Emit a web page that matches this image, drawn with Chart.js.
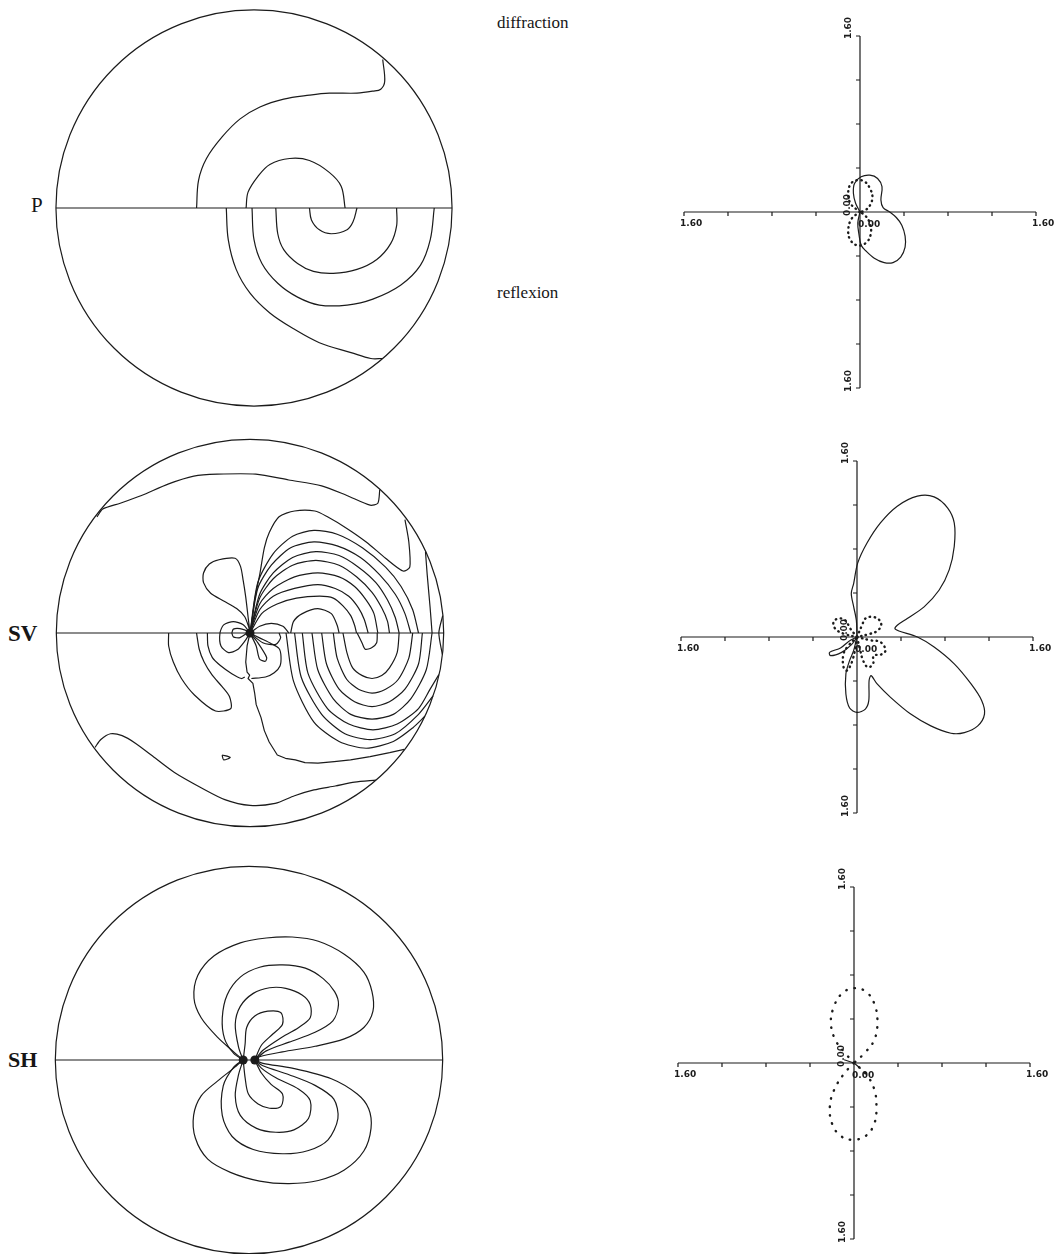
<!DOCTYPE html>
<html>
<head>
<meta charset="utf-8">
<title>Radiation patterns: P, SV, SH</title>
<script src="https://cdn.jsdelivr.net/npm/chart.js@4.4.0/dist/chart.umd.min.js"></script>
<style>
  html, body { margin: 0; padding: 0; background: #fff; }
  body { position: relative; width: 1058px; height: 1254px; overflow: hidden; }
  canvas { position: absolute; }
  .lbl { position: absolute; font-family: 'Liberation Serif', 'DejaVu Serif', serif; color: #161616; line-height: 1; white-space: nowrap; }
</style>
</head>
<body>
<div class="lbl" style="left:497px;top:14px;font-size:17px">diffraction</div>
<div class="lbl" style="left:497px;top:284px;font-size:17px">reflexion</div>
<div class="lbl" style="left:31px;top:195px;font-size:21px">P</div>
<div class="lbl" style="left:8px;top:622px;font-size:23px;font-weight:bold">SV</div>
<div class="lbl" style="left:8px;top:1049px;font-size:22px;font-weight:bold">SH</div>

<canvas id="mapP"  width="408" height="408" style="left:50px;top:4px"></canvas>
<canvas id="mapSV" width="408" height="408" style="left:46px;top:429px"></canvas>
<canvas id="mapSH" width="408" height="408" style="left:45px;top:856px"></canvas>
<canvas id="patP"  width="420" height="420" style="left:650px;top:2px"></canvas>
<canvas id="patSV" width="420" height="420" style="left:647px;top:427px"></canvas>
<canvas id="patSH" width="420" height="420" style="left:644px;top:853px"></canvas>

<script>
// ---------- contour maps: focal sphere projection, coordinates in % of the rim radius ----------
const RIM = 100;

// P wave amplitude contours
const P_SPIRAL   = [[65,75],[66,64],[64,60],[60,59],[52,58],[38,58],[28,57],[15,55],[3,51],[-7,45],[-16,36],[-24,25],[-28,14],[-29,0]];
const P_UPPER    = [[-4,0],[-3,8],[2,16],[8,22],[18,25],[28,24],[38,18],[44,11],[46,0]];
const P_LOWER_1  = [[28,0],[29,-6],[33,-11],[39,-13],[47,-11],[50,-7],[52,0]];
const P_LOWER_2  = [[11,0],[12,-13],[15,-21],[22,-28],[30,-32],[40,-33],[52,-31],[62,-26],[69,-18],[72,-9],[72,0]];
const P_LOWER_3  = [[-1,0],[0,-16],[4,-28],[12,-38],[22,-45],[33,-49],[47,-49],[60,-46],[74,-39],[84,-29],[89,-16],[91,0]];
const P_LOWER_4  = [[-14,0],[-13,-16],[-9,-31],[-2,-43],[8,-53],[20,-61],[33,-68],[49,-73],[59,-76],[65,-76]];

// SV wave amplitude contours
const SV_TOP     = [[-79,60],[-76,64],[-67,67],[-56,71],[-42,77],[-29,81],[-17,82],[3,82],[20,79],[37,76],[50,71],[62,66],[66,67],[67,74]];
const SV_HOOK    = [[80,58.5],[82,47],[82.5,34],[79,32],[70,38.6],[60,47],[50,54],[40,60],[33.5,63],[23,63],[15,60],[10,52],[7.4,44],[5,30],[2.4,17],[0.7,3.3],[0,0]];
const SV_EDGE_1  = [[90.6,42],[91.5,30],[93,13],[94,0]];
const SV_EDGE_2  = [[99.5,9],[97.5,0],[99.3,-11]];
const SV_ARC_1   = [[0,0],[6,10],[14,15],[24,18],[36,19],[43,18],[48,14],[52,9],[54,4],[55,0]];
const SV_ARC_2   = [[0,0],[5,12],[12,19],[23,23],[35,25],[44,23],[51,19],[56,13],[59,7],[61,0]];
const SV_ARC_3   = [[0,0],[5,15],[12,23],[23,29],[35,31],[46,29],[54,24],[60,17],[64,10],[66,0]];
const SV_ARC_4   = [[0,0],[5,18],[12,28],[22,35],[34,37.5],[46,35],[55,29],[63,21],[68,13],[71,6],[72,0]];
const SV_ARC_5   = [[0,0],[5,20],[12,31],[22,39],[34,42],[46,40],[56,34],[65,26],[71,17],[75,8],[77,0]];
const SV_ARC_6   = [[0,0],[4,23],[11,35],[21,44],[33,47],[45,45],[57,39],[67,30],[75,20],[80,10],[83,0]];
const SV_ARC_7   = [[0,0],[4,26],[12,41],[22,50],[33,53],[45,51],[58,44],[70,34],[78,24],[84,12],[87,0]];
const SV_DOME    = [[21,0],[22.5,6],[27,10],[35,12.6],[42,10],[45,4],[46,0]];
const SV_LOBE    = [[0,0],[-0.5,2.5],[-2.7,8.4],[-6.9,12.6],[-13.6,16.5],[-20.3,20.5],[-24,26],[-24,31],[-21,35.6],[-16,37.8],[-7.7,38.6],[-4.9,34.4],[-3.5,27],[-2.2,18.5],[-1,8.4],[0,0]];
const SV_LOOP_W  = [[0,0],[-3.5,4.2],[-8.6,5.9],[-13.6,4.2],[-15.5,0],[-15,-6.7],[-11.1,-10.1],[-6.6,-8.7],[-2.7,-4.2],[0,0]];
const SV_LOOP_IN = [[-9.4,0],[-8.6,2],[-5.2,2.3],[-1.2,0.7],[-5.2,-2.4],[-8.6,-2],[-9.4,0]];
const SV_LOOP_NE = [[0,0],[5,3.5],[11,5],[17,3.5],[20,0]];
const SV_LOOP_SE = [[0,0],[6.6,-5],[13.3,-5.9],[15.8,-2.5],[15,0]];
const SV_FINGER  = [[0,0],[3.2,-6.7],[4.9,-13.4],[7.9,-14.6],[8.6,-12.6],[4,-5],[0,0]];
const SV_LOOP_S  = [[0,0],[4.9,-2.5],[11,-5.5],[15,-8],[16,-12],[15.5,-17],[12.5,-20.5],[8,-22.7],[0.7,-23.5]];
const SV_WEST    = [[-42,0],[-42,-6.7],[-39.6,-15],[-35.4,-23.5],[-28.7,-32],[-17.8,-40.3],[-9.9,-39],[-10.6,-32.8],[-14.4,-27.7],[-19.5,-21.8],[-23.7,-15],[-26.2,-8.4],[-27.6,0]];
const SV_SW      = [[-22,0],[-21.7,-6.7],[-19.5,-12.6],[-15.3,-16.8],[-9.4,-21],[-4.4,-23.5],[-2.7,-22.7]];
const SV_RIDGE   = [[0,0],[-1.5,-6.7],[-2.2,-15],[-1.5,-20.2],[-0.2,-21.8],[-1,-23.5],[1.5,-26],[2.4,-31],[3.2,-37],[5.7,-43.7],[7.4,-50.4],[9.9,-56.3],[14.1,-63],[18.3,-64.7],[23.4,-65.5],[28.4,-66.9],[35.1,-67.2],[43.5,-66.4],[51.9,-65.5],[62,-63.8],[72.1,-61.8],[79.6,-60.1]];
const SV_NOTCH   = [[55.3,0],[57.8,-5],[59.5,-8.4],[62.8,-7.6],[65.4,-5],[65.7,0]];
const SV_BOWL_2  = [[48,0],[50,-10],[53,-18],[58,-22],[63,-23.5],[68,-22],[72,-18],[76,-10],[77,0]];
const SV_BOWL_3  = [[43,0],[45,-13],[50,-24],[56,-29],[63,-31],[70,-29],[76.5,-24],[82,-13],[84,0]];
const SV_BOWL_4  = [[37,0],[39.5,-16],[46,-29],[54,-35.5],[63,-38],[72,-35.5],[80,-29],[87,-16],[89,0]];
const SV_BOWL_5  = [[32,0],[35,-19],[43,-34],[52,-42],[63,-44.5],[74,-42],[83,-34],[91,-19],[94,0]];
const SV_BOWL_6  = [[27,0],[30,-21],[40,-39],[51,-47],[63.5,-50],[76,-47],[87,-39],[93,-29],[97.5,-21.5]];
const SV_BOWL_7  = [[23,0],[26.5,-23],[37,-42],[49,-52],[62,-55],[75,-52],[87,-42],[94.5,-32.5]];
const SV_BOWL_8  = [[18.6,0],[22.5,-25],[33,-46],[46,-56],[60,-59.5],[74,-56],[84,-49],[90.3,-43]];
const SV_BAND    = [[-80,-59],[-77,-55],[-72,-52],[-66,-53],[-59,-57],[-51,-63],[-39,-72],[-25,-80],[-13,-86],[0,-89],[13,-88],[23,-84],[33,-81],[44,-79],[54,-77],[65,-76]];
const SV_ISLET   = [[-14.4,-63],[-10.2,-64.2],[-13.6,-65.5],[-14.4,-63]];

// SH wave amplitude contours
const SH_N1 = [[-3,0],[-7.9,4.2],[-16.3,11.8],[-24.7,21.8],[-28.4,31.9],[-26.4,43.7],[-18,53.8],[-4.5,60.5],[8.9,63],[22.3,63.5],[35.8,61.3],[49.2,54.6],[59.3,45.4],[63.5,35.3],[64,25.2],[59.3,16.8],[49.2,10.9],[34.1,7.1],[17.3,4.2],[5.5,1.7],[3,0]];
const SH_N2 = [[-3,0],[-7.9,3.4],[-12.6,10.9],[-13.8,21.8],[-11.3,33.6],[-4.5,42.8],[5.5,47.9],[17.3,49.1],[29.1,47.4],[38.3,42],[44.2,35.3],[46.2,28.6],[43.3,20.2],[34.1,14.3],[20.7,9.2],[8.9,4.7],[3,0]];
const SH_N3 = [[-3,0],[-5.4,6.7],[-7.1,18.5],[-4.5,27.7],[2.2,34.4],[10.6,37.3],[19,37],[27.4,33.6],[31.6,28.6],[31.6,21.8],[25.7,16.8],[15.6,10.9],[7.2,5],[3,0]];
const SH_N4 = [[-3,0],[-2,8.4],[-1.2,16.8],[3,22.7],[9.7,25.2],[16.5,24.4],[17.3,18.5],[12.3,13.4],[6.4,7.6],[3,0]];
const SH_S1 = [[-3,0],[-7.9,-4.2],[-16.3,-10.9],[-24.7,-18.5],[-28.6,-28.6],[-27.7,-40.3],[-21.3,-51.2],[-9.6,-58],[5.5,-62.5],[20.7,-63.8],[35.8,-62.2],[49.2,-56.8],[59.3,-47],[63,-35.3],[61.8,-25.2],[55.9,-17.6],[42.5,-9.7],[22.3,-4.2],[7.2,-1.7],[3,0]];
const SH_S2 = [[-3,0],[-7.9,-3.7],[-13.3,-13.4],[-13.8,-28.6],[-8.7,-39.5],[2.2,-46.2],[17.3,-48.4],[30.7,-46.7],[40.8,-41.2],[45.9,-30.2],[43.8,-20.2],[34.1,-13.1],[20.7,-7.6],[7.2,-3],[3,0]];
const SH_S3 = [[-3,0],[-5.4,-7.6],[-7.1,-18.5],[-4.5,-28.6],[3.9,-35.3],[13.9,-37.3],[23.2,-36.1],[30.7,-30.2],[31.6,-21],[25.7,-15.1],[13.9,-9.2],[6.4,-4.2],[3,0]];
const SH_S4 = [[-3,0],[-2,-9.2],[-0.3,-17.6],[4.7,-22.7],[10.6,-24.9],[16.5,-23.9],[17.3,-17.6],[11.4,-12.6],[6.4,-6.7],[3,0]];

const SV_SINGULAR = [[0,0]];
const SH_SINGULAR = [[-3,0],[3,0]];

// ---------- radiation patterns (amplitude vs. direction) ----------
const AXIS_MAX = 1.6;
const AXIS_TICKS = [-1.6, -1.2, -0.8, -0.4, 0.4, 0.8, 1.2, 1.6];
const END_LABEL = '1.60';
const ORIGIN_LABEL = '0.00';

const PAT_P_SOLID   = [[0,0],[-0.04,0.08],[-0.06,0.17],[-0.05,0.26],[0.01,0.32],[0.09,0.335],[0.16,0.305],[0.2,0.23],[0.19,0.11],[0.21,0.04],[0.27,0],[0.33,-0.05],[0.38,-0.12],[0.41,-0.22],[0.41,-0.32],[0.37,-0.41],[0.3,-0.46],[0.22,-0.46],[0.13,-0.42],[0.05,-0.35],[0.01,-0.3],[-0.01,-0.2],[-0.02,-0.1],[0,0]];
const PAT_P_DOT_UP  = [[0,0],[-0.085,0.076],[-0.107,0.183],[-0.076,0.265],[-0.015,0.29],[0.046,0.274],[0.091,0.213],[0.113,0.137],[0.091,0.061],[0.046,0.015],[0,0]];
const PAT_P_DOT_DN  = [[0,0],[-0.076,-0.061],[-0.107,-0.168],[-0.085,-0.259],[-0.015,-0.305],[0.061,-0.274],[0.098,-0.198],[0.091,-0.107],[0.046,-0.03],[0,0]];

const PAT_SV_SOLID  = [[0,0],[-0.006,0.152],[-0.03,0.274],[-0.052,0.396],[-0.03,0.488],[0.006,0.671],[0.091,0.854],[0.213,1.037],[0.366,1.189],[0.549,1.28],[0.701,1.274],[0.823,1.174],[0.884,1.037],[0.884,0.823],[0.838,0.61],[0.747,0.427],[0.61,0.274],[0.457,0.168],[0.366,0.107],[0.345,0.076],[0.381,0.055],[0.549,0],[0.701,-0.091],[0.884,-0.244],[1.037,-0.427],[1.134,-0.579],[1.159,-0.701],[1.098,-0.808],[0.976,-0.869],[0.854,-0.875],[0.671,-0.808],[0.488,-0.701],[0.305,-0.549],[0.183,-0.427],[0.128,-0.351],[0.11,-0.396],[0.107,-0.579],[0.076,-0.655],[0,-0.686],[-0.067,-0.646],[-0.101,-0.518],[-0.101,-0.335],[-0.067,-0.213],[-0.03,-0.122],[0,0]];
const PAT_SV_SIDE   = [[0,0],[-0.076,-0.04],[-0.15,-0.1],[-0.25,-0.14],[-0.24,-0.17],[-0.14,-0.14],[-0.05,-0.07],[0,0]];
const PAT_SV_DOT_NE = [[0,0],[0.046,0.107],[0.076,0.168],[0.137,0.183],[0.198,0.159],[0.22,0.107],[0.183,0.055],[0.122,0.03],[0,0]];
const PAT_SV_DOT_NW = [[0,0],[-0.061,0.076],[-0.107,0.152],[-0.168,0.168],[-0.213,0.137],[-0.198,0.076],[-0.122,0.03],[0,0]];
const PAT_SV_DOT_SE = [[0,0],[0.122,-0.03],[0.213,-0.046],[0.259,-0.122],[0.213,-0.162],[0.152,-0.168],[0.146,-0.244],[0.098,-0.274],[0.055,-0.213],[0.03,-0.122],[0,0]];
const PAT_SV_DOT_SW = [[0,0],[-0.076,-0.076],[-0.122,-0.152],[-0.122,-0.274],[-0.091,-0.305],[-0.037,-0.198],[0,0]];

const PAT_SH_DOT_UP = [[0,0],[-0.076,0.085],[-0.168,0.207],[-0.21,0.36],[-0.183,0.512],[-0.107,0.634],[0,0.68],[0.107,0.65],[0.183,0.543],[0.213,0.375],[0.183,0.207],[0.091,0.085],[0,0]];
const PAT_SH_DOT_DN = [[0,0],[-0.091,-0.098],[-0.183,-0.25],[-0.22,-0.402],[-0.198,-0.555],[-0.122,-0.662],[-0.015,-0.698],[0.107,-0.662],[0.183,-0.555],[0.204,-0.402],[0.183,-0.235],[0.107,-0.098],[0,0]];
const PAT_SH_SOLID  = [[-0.09,0.03],[0,0],[0.06,-0.05]];

// ---------- drawing ----------
const INK = '#1b1b1b';

function solid(pts, tension = 0.3) {
  return { data: pts.map(([x, y]) => ({ x, y })), showLine: true, borderColor: INK, borderWidth: 1.2,
           pointRadius: 0, fill: false, tension: tension, borderJoinStyle: 'round' };
}
function dotted(pts, gap = 5) {
  return { data: pts.map(([x, y]) => ({ x, y })), showLine: true, borderColor: INK, borderWidth: 2.4,
           borderDash: [0.5, gap], borderCapStyle: 'round', pointRadius: 0, fill: false, tension: 0.4 };
}
function blobs(pts) {
  return { data: pts.map(([x, y]) => ({ x, y })), showLine: false, pointRadius: 4.5,
           pointBackgroundColor: INK, pointBorderWidth: 0 };
}

// rim circle and horizontal diameter of the projection
const rimPlugin = {
  id: 'rim',
  beforeDatasetsDraw(chart) {
    const { ctx, scales: { x, y } } = chart;
    const cx = x.getPixelForValue(0), cy = y.getPixelForValue(0);
    const r = x.getPixelForValue(RIM) - cx;
    ctx.save();
    ctx.strokeStyle = INK;
    ctx.lineWidth = 1.2;
    ctx.beginPath();
    ctx.arc(cx, cy, r, 0, Math.PI * 2);
    ctx.moveTo(x.getPixelForValue(-RIM), cy);
    ctx.lineTo(x.getPixelForValue(RIM), cy);
    ctx.stroke();
    ctx.restore();
  }
};

// crossing axes with ticks and end labels for the pattern plots
const crossAxesPlugin = {
  id: 'crossAxes',
  beforeDatasetsDraw(chart) {
    const { ctx, scales: { x, y } } = chart;
    const x0 = x.getPixelForValue(0), y0 = y.getPixelForValue(0);
    const xl = x.getPixelForValue(-AXIS_MAX), xr = x.getPixelForValue(AXIS_MAX);
    const yt = y.getPixelForValue(AXIS_MAX), yb = y.getPixelForValue(-AXIS_MAX);
    ctx.save();
    ctx.strokeStyle = INK;
    ctx.lineWidth = 1.2;
    ctx.beginPath();
    ctx.moveTo(xl, y0); ctx.lineTo(xr, y0);
    ctx.moveTo(x0, yt); ctx.lineTo(x0, yb);
    AXIS_TICKS.forEach(t => {
      const px = x.getPixelForValue(t);
      ctx.moveTo(px, y0); ctx.lineTo(px, y0 + 4);
      const py = y.getPixelForValue(t);
      ctx.moveTo(x0, py); ctx.lineTo(x0 - 4, py);
    });
    ctx.stroke();

    ctx.fillStyle = INK;
    ctx.font = 'bold 9px "DejaVu Sans", sans-serif';
    ctx.textBaseline = 'middle';
    ctx.textAlign = 'left';
    ctx.fillText(END_LABEL, xl - 4, y0 + 12);
    ctx.fillText(END_LABEL, xr - 4, y0 + 12);
    ctx.fillText(ORIGIN_LABEL, x0 - 2, y0 + 13);
    const upright = (txt, px, py) => {
      ctx.save();
      ctx.translate(px, py);
      ctx.rotate(-Math.PI / 2);
      ctx.textAlign = 'center';
      ctx.fillText(txt, 0, 0);
      ctx.restore();
    };
    upright(END_LABEL, x0 - 11, yt - 8);
    upright(END_LABEL, x0 - 11, yb - 7);
    upright(ORIGIN_LABEL, x0 - 12, y0 - 7);
    ctx.restore();
  }
};

function baseOptions(lim) {
  return {
    responsive: false,
    animation: false,
    events: [],
    layout: { padding: 0 },
    plugins: { legend: { display: false }, tooltip: { enabled: false } },
    scales: {
      x: { type: 'linear', min: -lim, max: lim, display: false },
      y: { type: 'linear', min: -lim, max: lim, display: false }
    }
  };
}

function contourMap(id, datasets) {
  new Chart(document.getElementById(id), {
    type: 'scatter',
    data: { datasets },
    options: baseOptions(103),
    plugins: [rimPlugin]
  });
}

function pattern(id, datasets) {
  new Chart(document.getElementById(id), {
    type: 'scatter',
    data: { datasets },
    options: baseOptions(1.909),
    plugins: [crossAxesPlugin]
  });
}

contourMap('mapP', [P_SPIRAL, P_UPPER, P_LOWER_1, P_LOWER_2, P_LOWER_3, P_LOWER_4].map(l => solid(l, 0.35)));

contourMap('mapSV', [
  ...[SV_TOP, SV_HOOK, SV_EDGE_1, SV_EDGE_2,
      SV_ARC_1, SV_ARC_2, SV_ARC_3, SV_ARC_4, SV_ARC_5, SV_ARC_6, SV_ARC_7, SV_DOME, SV_LOBE,
      SV_LOOP_W, SV_LOOP_IN, SV_LOOP_NE, SV_LOOP_SE, SV_FINGER, SV_LOOP_S,
      SV_WEST, SV_SW, SV_NOTCH,
      SV_BOWL_2, SV_BOWL_3, SV_BOWL_4, SV_BOWL_5, SV_BOWL_6, SV_BOWL_7, SV_BOWL_8,
      SV_BAND, SV_ISLET].map(l => solid(l, 0.25)),
  solid(SV_RIDGE, 0),
  blobs(SV_SINGULAR)
]);

contourMap('mapSH', [
  ...[SH_N1, SH_N2, SH_N3, SH_N4, SH_S1, SH_S2, SH_S3, SH_S4].map(l => solid(l, 0.3)),
  blobs(SH_SINGULAR)
]);

pattern('patP', [solid(PAT_P_SOLID, 0.35), dotted(PAT_P_DOT_UP, 4.5), dotted(PAT_P_DOT_DN, 4.5)]);
pattern('patSV', [solid(PAT_SV_SOLID, 0.3), solid(PAT_SV_SIDE, 0.3),
                  dotted(PAT_SV_DOT_NE, 4.5), dotted(PAT_SV_DOT_NW, 4.5), dotted(PAT_SV_DOT_SE, 4.5), dotted(PAT_SV_DOT_SW, 4.5)]);
pattern('patSH', [dotted(PAT_SH_DOT_UP, 8), dotted(PAT_SH_DOT_DN, 8), solid(PAT_SH_SOLID, 0)]);
</script>
</body>
</html>
